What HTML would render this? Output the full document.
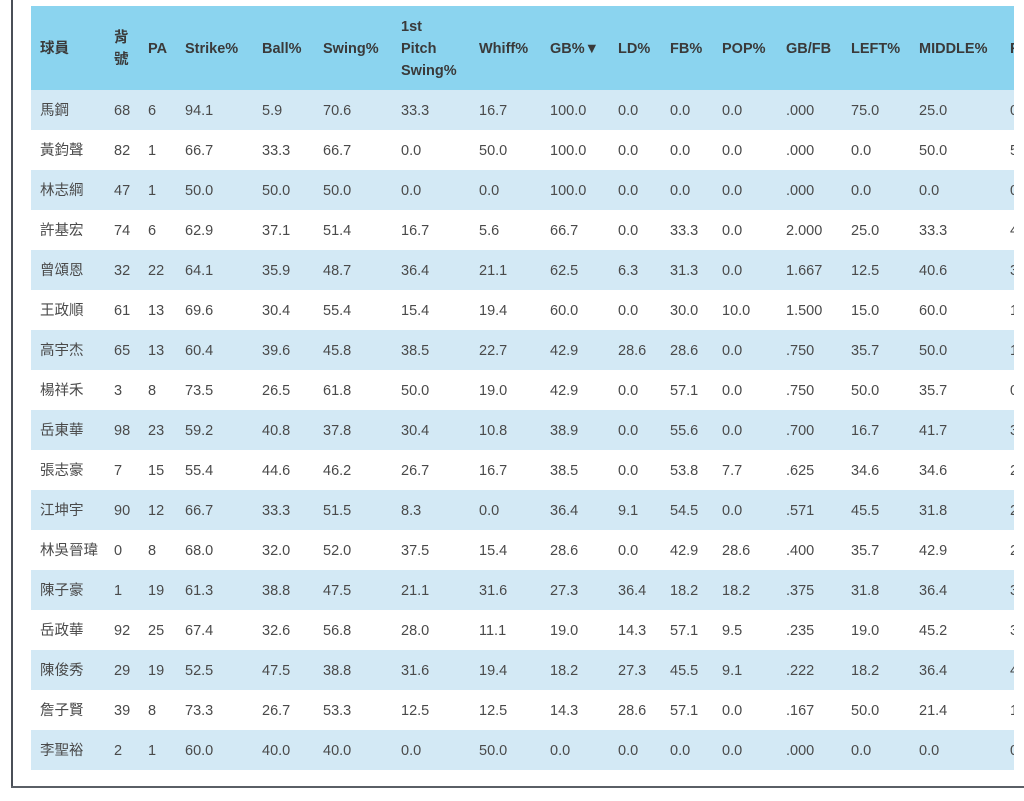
<!DOCTYPE html>
<html><head><meta charset="utf-8"><style>
html,body{margin:0;padding:0;background:#fff;width:1024px;height:801px;overflow:hidden;position:relative}
.fl{position:absolute;left:11px;top:0;width:2px;height:788px;background:#4a4f57}
.fb{position:absolute;left:11px;top:786px;width:1013px;height:2px;background:#5a5f66}
.wrap{position:absolute;left:31px;top:6px;width:983px;height:766px;overflow:hidden}
table{border-collapse:collapse;table-layout:fixed;width:1030px;font-family:"Liberation Sans","Noto Sans CJK TC",sans-serif;font-size:14.5px;color:#4a4a4a}
th{background:#8bd4ef;height:82px;text-align:left;font-weight:bold;color:#3a3a3a;padding:2px 0 0 9px;line-height:22px;vertical-align:middle;white-space:nowrap}
td{height:39px;padding:1px 0 0 9px;white-space:nowrap;line-height:18px;vertical-align:middle}
tbody tr:nth-child(odd) td{background:#d3e9f5}
</style></head><body>
<div class="fl"></div><div class="fb"></div>
<div class="wrap"><table>
<colgroup><col style="width:74px"><col style="width:34px"><col style="width:37px"><col style="width:77px"><col style="width:61px"><col style="width:78px"><col style="width:78px"><col style="width:71px"><col style="width:68px"><col style="width:52px"><col style="width:52px"><col style="width:64px"><col style="width:65px"><col style="width:68px"><col style="width:91px"><col style="width:60px"></colgroup>
<thead><tr><th>球員</th><th>背<br>號</th><th>PA</th><th>Strike%</th><th>Ball%</th><th>Swing%</th><th>1st<br>Pitch<br>Swing%</th><th>Whiff%</th><th>GB%▼</th><th>LD%</th><th>FB%</th><th>POP%</th><th>GB/FB</th><th>LEFT%</th><th>MIDDLE%</th><th>RIGHT%</th></tr></thead>
<tbody>
<tr><td>馬鋼</td><td>68</td><td>6</td><td>94.1</td><td>5.9</td><td>70.6</td><td>33.3</td><td>16.7</td><td>100.0</td><td>0.0</td><td>0.0</td><td>0.0</td><td>.000</td><td>75.0</td><td>25.0</td><td>0.0</td></tr>
<tr><td>黃鈞聲</td><td>82</td><td>1</td><td>66.7</td><td>33.3</td><td>66.7</td><td>0.0</td><td>50.0</td><td>100.0</td><td>0.0</td><td>0.0</td><td>0.0</td><td>.000</td><td>0.0</td><td>50.0</td><td>50.0</td></tr>
<tr><td>林志綱</td><td>47</td><td>1</td><td>50.0</td><td>50.0</td><td>50.0</td><td>0.0</td><td>0.0</td><td>100.0</td><td>0.0</td><td>0.0</td><td>0.0</td><td>.000</td><td>0.0</td><td>0.0</td><td>0.0</td></tr>
<tr><td>許基宏</td><td>74</td><td>6</td><td>62.9</td><td>37.1</td><td>51.4</td><td>16.7</td><td>5.6</td><td>66.7</td><td>0.0</td><td>33.3</td><td>0.0</td><td>2.000</td><td>25.0</td><td>33.3</td><td>41.7</td></tr>
<tr><td>曾頌恩</td><td>32</td><td>22</td><td>64.1</td><td>35.9</td><td>48.7</td><td>36.4</td><td>21.1</td><td>62.5</td><td>6.3</td><td>31.3</td><td>0.0</td><td>1.667</td><td>12.5</td><td>40.6</td><td>3</td></tr>
<tr><td>王政順</td><td>61</td><td>13</td><td>69.6</td><td>30.4</td><td>55.4</td><td>15.4</td><td>19.4</td><td>60.0</td><td>0.0</td><td>30.0</td><td>10.0</td><td>1.500</td><td>15.0</td><td>60.0</td><td>1</td></tr>
<tr><td>高宇杰</td><td>65</td><td>13</td><td>60.4</td><td>39.6</td><td>45.8</td><td>38.5</td><td>22.7</td><td>42.9</td><td>28.6</td><td>28.6</td><td>0.0</td><td>.750</td><td>35.7</td><td>50.0</td><td>1</td></tr>
<tr><td>楊祥禾</td><td>3</td><td>8</td><td>73.5</td><td>26.5</td><td>61.8</td><td>50.0</td><td>19.0</td><td>42.9</td><td>0.0</td><td>57.1</td><td>0.0</td><td>.750</td><td>50.0</td><td>35.7</td><td>0</td></tr>
<tr><td>岳東華</td><td>98</td><td>23</td><td>59.2</td><td>40.8</td><td>37.8</td><td>30.4</td><td>10.8</td><td>38.9</td><td>0.0</td><td>55.6</td><td>0.0</td><td>.700</td><td>16.7</td><td>41.7</td><td>3</td></tr>
<tr><td>張志豪</td><td>7</td><td>15</td><td>55.4</td><td>44.6</td><td>46.2</td><td>26.7</td><td>16.7</td><td>38.5</td><td>0.0</td><td>53.8</td><td>7.7</td><td>.625</td><td>34.6</td><td>34.6</td><td>2</td></tr>
<tr><td>江坤宇</td><td>90</td><td>12</td><td>66.7</td><td>33.3</td><td>51.5</td><td>8.3</td><td>0.0</td><td>36.4</td><td>9.1</td><td>54.5</td><td>0.0</td><td>.571</td><td>45.5</td><td>31.8</td><td>2</td></tr>
<tr><td>林吳晉瑋</td><td>0</td><td>8</td><td>68.0</td><td>32.0</td><td>52.0</td><td>37.5</td><td>15.4</td><td>28.6</td><td>0.0</td><td>42.9</td><td>28.6</td><td>.400</td><td>35.7</td><td>42.9</td><td>2</td></tr>
<tr><td>陳子豪</td><td>1</td><td>19</td><td>61.3</td><td>38.8</td><td>47.5</td><td>21.1</td><td>31.6</td><td>27.3</td><td>36.4</td><td>18.2</td><td>18.2</td><td>.375</td><td>31.8</td><td>36.4</td><td>3</td></tr>
<tr><td>岳政華</td><td>92</td><td>25</td><td>67.4</td><td>32.6</td><td>56.8</td><td>28.0</td><td>11.1</td><td>19.0</td><td>14.3</td><td>57.1</td><td>9.5</td><td>.235</td><td>19.0</td><td>45.2</td><td>3</td></tr>
<tr><td>陳俊秀</td><td>29</td><td>19</td><td>52.5</td><td>47.5</td><td>38.8</td><td>31.6</td><td>19.4</td><td>18.2</td><td>27.3</td><td>45.5</td><td>9.1</td><td>.222</td><td>18.2</td><td>36.4</td><td>4</td></tr>
<tr><td>詹子賢</td><td>39</td><td>8</td><td>73.3</td><td>26.7</td><td>53.3</td><td>12.5</td><td>12.5</td><td>14.3</td><td>28.6</td><td>57.1</td><td>0.0</td><td>.167</td><td>50.0</td><td>21.4</td><td>1</td></tr>
<tr><td>李聖裕</td><td>2</td><td>1</td><td>60.0</td><td>40.0</td><td>40.0</td><td>0.0</td><td>50.0</td><td>0.0</td><td>0.0</td><td>0.0</td><td>0.0</td><td>.000</td><td>0.0</td><td>0.0</td><td>0</td></tr>
</tbody></table></div>
</body></html>
